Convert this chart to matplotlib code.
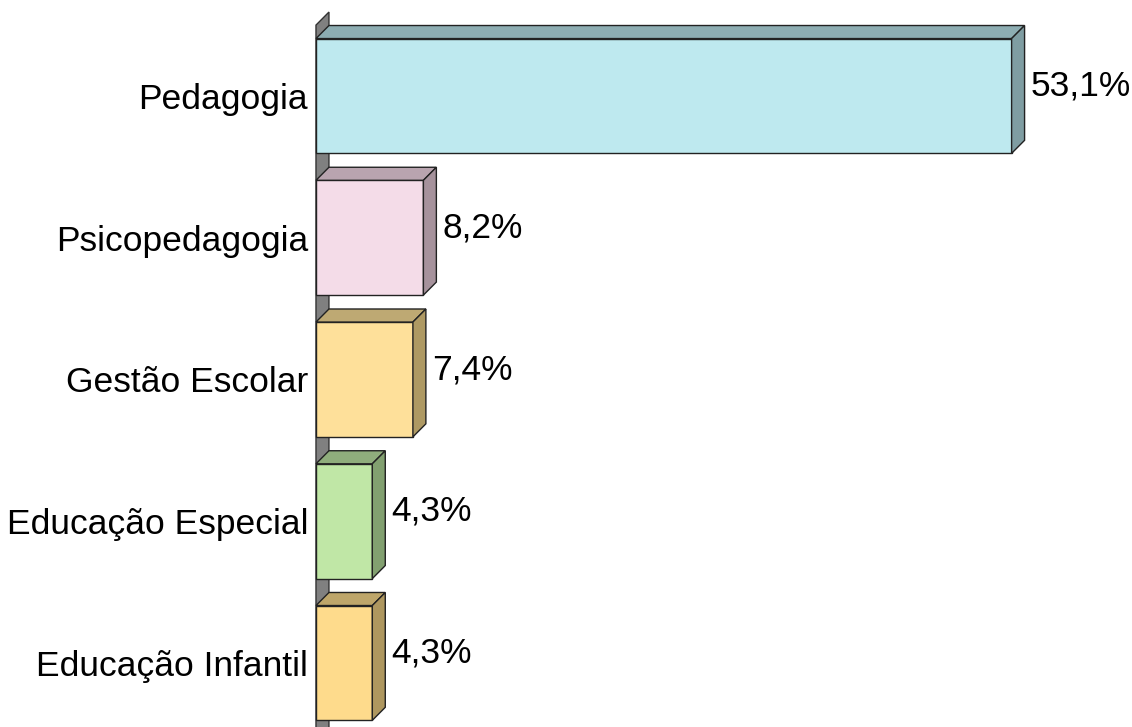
import matplotlib.pyplot as plt
from matplotlib.patches import Polygon

plt.rcParams['font.family'] = ['Liberation Sans', 'DejaVu Sans']

# Áreas de formação e percentuais
areas = ['Pedagogia', 'Psicopedagogia', 'Gestão Escolar',
         'Educação Especial', 'Educação Infantil']
valores = [53.1, 8.2, 7.4, 4.3, 4.3]
rotulos = ['53,1%', '8,2%', '7,4%', '4,3%', '4,3%']

cor_frente = ['#BEE9EF', '#F4DCE8', '#FEE09A', '#C0E7A6', '#FEDB8C']
cor_topo = ['#8DADB2', '#B9A4AF', '#BEA973', '#8FAD7C', '#BEA66A']
cor_lado = ['#7F9DA2', '#A6929C', '#AE9963', '#82A070', '#AE975F']

# profundidade 3D (x em %, y em unidades de categoria)
dx = 0.99
dy = 0.092
altura = 0.81

fig = plt.figure(figsize=(11.32, 7.27), dpi=100)
ax = fig.add_axes([0, 0, 1, 1])
ax.set_xlim(-24.12, 62.29)
ax.set_ylim(4.452, -0.677)
ax.axis('off')

# parede lateral cinza
parede = Polygon([(0, -0.5), (dx, -0.5 - dy), (dx, 10), (0, 10)],
                 closed=True, facecolor='#808080', edgecolor='#333333', lw=1)
ax.add_patch(parede)

for i, v in enumerate(valores):
    y0 = i - altura / 2
    y1 = i + altura / 2
    frente = Polygon([(0, y0), (v, y0), (v, y1), (0, y1)],
                     facecolor=cor_frente[i], edgecolor='#222222', lw=1)
    topo = Polygon([(0, y0), (dx, y0 - dy), (v + dx, y0 - dy), (v, y0)],
                   facecolor=cor_topo[i], edgecolor='#222222', lw=1)
    lado = Polygon([(v, y0), (v + dx, y0 - dy), (v + dx, y1 - dy), (v, y1)],
                   facecolor=cor_lado[i], edgecolor='#222222', lw=1)
    for p in (frente, topo, lado):
        ax.add_patch(p)

    ax.text(-0.6, i + 0.025, areas[i], ha='right', va='center', fontsize=25.5,
            color='black')
    ax.text(v + dx + 0.45, i - dy + 0.022, rotulos[i], ha='left', va='center',
            fontsize=25.5, color='black')

fig.savefig('out.png', dpi=100)
